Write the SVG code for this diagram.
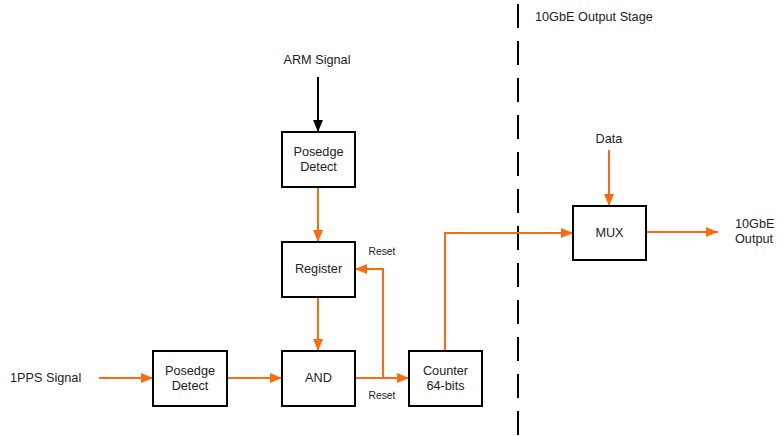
<svg xmlns="http://www.w3.org/2000/svg" width="777" height="436" viewBox="0 0 777 436">
<defs>
<style>
.box{fill:#fff;stroke:#000;stroke-width:2}
.t{font-family:"Liberation Sans",Arial,sans-serif;font-size:12.7px;fill:#222;text-anchor:middle}
.ts{font-family:"Liberation Sans",Arial,sans-serif;font-size:10.3px;fill:#222;text-anchor:middle}
.o{fill:none;stroke:#FF6A0F;stroke-width:2}
.k{fill:none;stroke:#000;stroke-width:2}
</style>
<marker id="ao" markerWidth="12" markerHeight="10" refX="12" refY="5" orient="auto" markerUnits="userSpaceOnUse"><path d="M0,0 L12,5 L0,10 Z" fill="#FF6A0F"/></marker>
<marker id="ak" markerWidth="12" markerHeight="10" refX="12" refY="5" orient="auto" markerUnits="userSpaceOnUse"><path d="M0,0 L12,5 L0,10 Z" fill="#000"/></marker>
</defs>
<rect width="777" height="436" fill="#fff"/>
<line x1="518" y1="4" x2="518" y2="436" stroke="#000" stroke-width="2" stroke-dasharray="24,13"/>
<text class="t" x="535" y="21" style="text-anchor:start">10GbE Output Stage</text>
<g id="connectors">
<line class="k" x1="318" y1="77" x2="318" y2="132" marker-end="url(#ak)"/>
<line class="o" x1="318" y1="187" x2="318" y2="242" marker-end="url(#ao)"/>
<line class="o" x1="318" y1="297" x2="318" y2="351" marker-end="url(#ao)"/>
<line class="o" x1="99" y1="378" x2="153" y2="378" marker-end="url(#ao)"/>
<line class="o" x1="227" y1="378" x2="282" y2="378" marker-end="url(#ao)"/>
<line class="o" x1="355" y1="378" x2="409" y2="378" marker-end="url(#ao)"/>
<polyline class="o" points="383,378 383,269 355,269" marker-end="url(#ao)"/>
<polyline class="o" points="445,351 445,233 573,233" marker-end="url(#ao)"/>
<line class="o" x1="609" y1="150" x2="609" y2="206" marker-end="url(#ao)"/>
<line class="o" x1="646" y1="232" x2="718" y2="232" marker-end="url(#ao)"/>
<text class="ts" x="382" y="255">Reset</text>
<text class="ts" x="382" y="399">Reset</text>
</g>
<g id="arm"><text class="t" x="317" y="64">ARM Signal</text></g>
<g id="pps"><text class="t" x="10" y="382" style="text-anchor:start">1PPS Signal</text></g>
<g id="data"><text class="t" x="609" y="143">Data</text></g>
<g id="out"><text class="t" x="735" y="228" style="text-anchor:start">10GbE</text><text class="t" x="735" y="243" style="text-anchor:start">Output</text></g>
<g id="posedge1"><rect class="box" x="282" y="132" width="73" height="55"/><text class="t" x="318.5" y="156">Posedge</text><text class="t" x="318.5" y="171">Detect</text></g>
<g id="register"><rect class="box" x="282" y="242" width="73" height="55"/><text class="t" x="318.5" y="273">Register</text></g>
<g id="and"><rect class="box" x="282" y="351" width="73" height="55"/><text class="t" x="318.5" y="382">AND</text></g>
<g id="posedge2"><rect class="box" x="153" y="351" width="74" height="55"/><text class="t" x="190" y="375">Posedge</text><text class="t" x="190" y="390">Detect</text></g>
<g id="counter"><rect class="box" x="409" y="351" width="73" height="55"/><text class="t" x="445.5" y="375">Counter</text><text class="t" x="445.5" y="390">64-bits</text></g>
<g id="mux"><rect class="box" x="573" y="206" width="73" height="54"/><text class="t" x="609.5" y="237">MUX</text></g>
</svg>
